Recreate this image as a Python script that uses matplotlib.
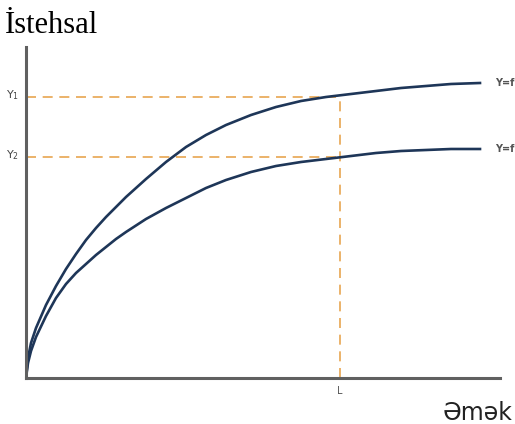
import matplotlib
matplotlib.use("Agg")
import matplotlib.pyplot as plt

# curve readings (x = labour, y = output)
upper_x = [0, 2, 5, 10, 20, 30, 40, 50, 60, 70, 80, 90, 100, 120, 140, 160, 180, 200,
           225, 250, 275, 300, 325, 350, 375, 400, 425, 454]
upper_y = [0, 20, 35, 50, 73, 92, 109, 124, 138, 150, 161, 171, 181, 199, 216, 231, 243, 253,
           263, 271, 277, 281, 284, 287, 290, 292, 294, 295]
lower_x = [0, 2, 5, 10, 20, 30, 40, 50, 60, 70, 80, 90, 100, 120, 140, 160, 180, 200,
           225, 250, 275, 300, 325, 350, 375, 400, 425, 454]
lower_y = [0, 15, 27, 41, 62, 80, 94, 105, 114, 123, 131, 139, 146, 159, 170, 180, 190, 198,
           206, 212, 216, 219, 222, 225, 227, 228, 229, 229]

y1_level = 281
y2_level = 221
l_level = 314
y_labels = ["Y$_1$", "Y$_2$"]
curve_labels = ["Y=f", "Y=f"]

W, H = 515, 424
fig = plt.figure(figsize=(W / 100, H / 100), dpi=100)
ax = fig.add_axes([26 / W, 46 / H, 474 / W, 331 / H])
ax.set_xlim(0, 474)
ax.set_ylim(0, 331)
for s in ["top", "right"]:
    ax.spines[s].set_visible(False)
for s in ["left", "bottom"]:
    ax.spines[s].set_color("#606060")
    ax.spines[s].set_linewidth(2.2)
ax.set_xticks([]); ax.set_yticks([])

dash_col = "#e8a550"
ax.plot([0, l_level], [y1_level, y1_level], color=dash_col, lw=1.2, dashes=(6, 4))
ax.plot([0, l_level], [y2_level, y2_level], color=dash_col, lw=1.2, dashes=(6, 4))
ax.plot([l_level, l_level], [0, y1_level], color=dash_col, lw=1.2, dashes=(6, 4))

navy = "#1e3658"
ax.plot(upper_x, upper_y, color=navy, lw=1.9, solid_joinstyle="round")
ax.plot(lower_x, lower_y, color=navy, lw=1.9, solid_joinstyle="round")

ax.text(-21, 345, "İstehsal", fontsize=22, family="Liberation Serif",
        va="baseline", ha="left", clip_on=False)
ax.text(417, -42, "Əmək", fontsize=17, family="DejaVu Sans", color="#222222",
        va="baseline", ha="left", clip_on=False)
for lab, lev in zip(y_labels, [y1_level, y2_level]):
    ax.text(-13, lev + 2, lab, fontsize=8, color="#444444", ha="center", va="center",
            clip_on=False)
for lab, lev in zip(curve_labels, [upper_y[-1], lower_y[-1]]):
    ax.text(469, lev, lab, fontsize=7, color="#555555", ha="left", va="center",
            fontweight="bold", clip_on=False)
ax.text(l_level, -8, "L", fontsize=7, color="#555555", ha="center", va="top", clip_on=False)

fig.savefig("out.png", dpi=100)
